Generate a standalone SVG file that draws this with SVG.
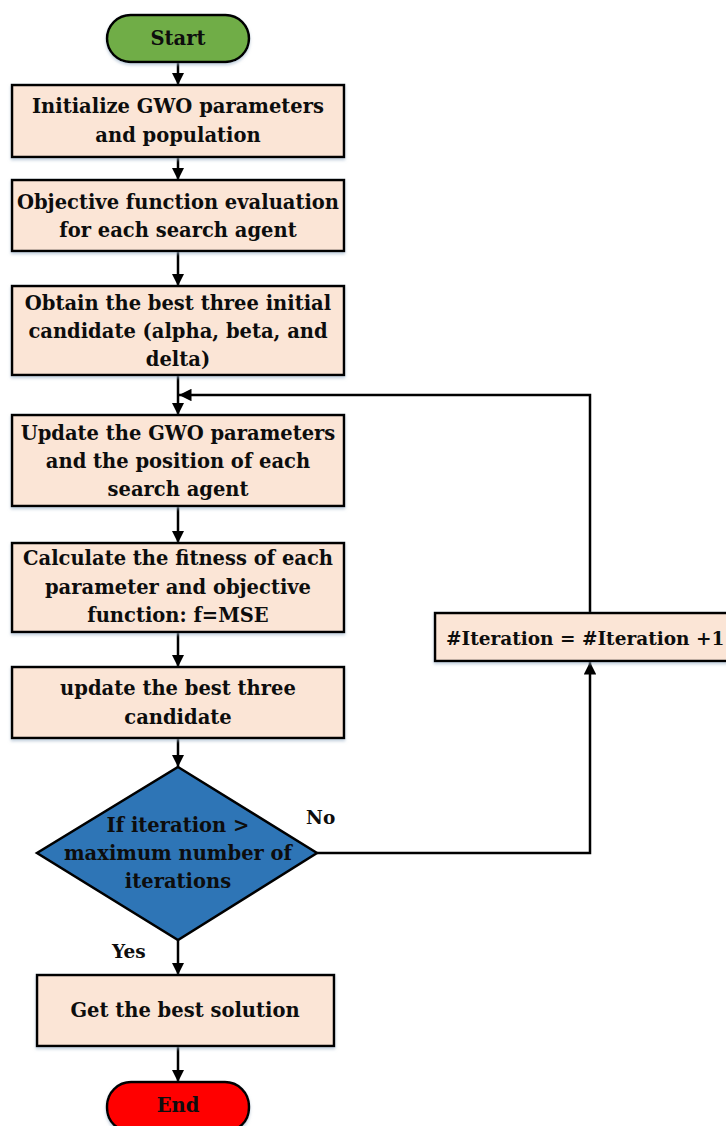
<svg xmlns="http://www.w3.org/2000/svg" width="726" height="1126" viewBox="0 0 726 1126">
  <defs>
    <marker id="arrow" viewBox="0 0 10 10" refX="10" refY="5" markerWidth="5" markerHeight="5" markerUnits="strokeWidth" orient="auto">
      <path d="M0,0 L10,5 L0,10 Z" fill="#000"/>
    </marker>
    <filter id="shadow" x="-5%" y="-10%" width="110%" height="125%">
      <feDropShadow dx="0" dy="2" stdDeviation="1.5" flood-color="#9bb0c8" flood-opacity="0.6"/>
    </filter>
    <style>
      .box { fill: #fbe5d6; stroke: #000; stroke-width: 2.5; filter: url(#shadow); }
      .start { fill: #70ad47; stroke: #000; stroke-width: 2.5; filter: url(#shadow); }
      .end { fill: #ff0000; stroke: #000; stroke-width: 2.5; filter: url(#shadow); }
      .decision { fill: #2e75b6; stroke: #000; stroke-width: 2.5; }
      .lbl { font-family: "DejaVu Serif", "Liberation Serif", serif; font-weight: bold; font-size: 19.5px; fill: #0d0d0d; text-anchor: middle; }
      .tag { font-family: "DejaVu Serif", "Liberation Serif", serif; font-weight: bold; font-size: 18.5px; fill: #0d0d0d; }
      .conn { fill: none; stroke: #000; stroke-width: 2.5; }
      .conn.arr { marker-end: url(#arrow); }
    </style>
  </defs>

  <!-- connectors -->
  <g id="connectors">
    <path class="conn arr" d="M178,62 V85"/>
    <path class="conn arr" d="M178,157 V180"/>
    <path class="conn arr" d="M178,251 V286"/>
    <path class="conn arr" d="M178,375 V415"/>
    <path class="conn arr" d="M178,506 V543"/>
    <path class="conn arr" d="M178,632 V667"/>
    <path class="conn arr" d="M178,738 V767"/>
    <path class="conn arr" d="M178,940 V975"/>
    <path class="conn arr" d="M178,1046 V1082"/>
    <path class="conn arr" d="M317,853 H590 V662"/>
    <path class="conn arr" d="M590,613 V395 H179"/>
    <text class="tag" x="306" y="824">No</text>
    <text class="tag" x="112" y="958">Yes</text>
  </g>

  <g id="start">
    <rect class="start" x="107" y="15" width="142" height="47" rx="23.5"/>
    <text class="lbl" x="178" y="45">Start</text>
  </g>

  <g id="init">
    <rect class="box" x="12" y="85" width="332" height="72"/>
    <text class="lbl" x="178" y="113">Initialize GWO parameters</text>
    <text class="lbl" x="178" y="142">and population</text>
  </g>

  <g id="evaluate">
    <rect class="box" x="12" y="180" width="332" height="71"/>
    <text class="lbl" x="178" y="209">Objective function evaluation</text>
    <text class="lbl" x="178" y="237">for each search agent</text>
  </g>

  <g id="best-initial">
    <rect class="box" x="12" y="286" width="332" height="89"/>
    <text class="lbl" x="178" y="310">Obtain the best three initial</text>
    <text class="lbl" x="178" y="338">candidate (alpha, beta, and</text>
    <text class="lbl" x="178" y="366">delta)</text>
  </g>

  <g id="update-params">
    <rect class="box" x="12" y="415" width="332" height="91"/>
    <text class="lbl" x="178" y="440">Update the GWO parameters</text>
    <text class="lbl" x="178" y="468">and the position of each</text>
    <text class="lbl" x="178" y="496">search agent</text>
  </g>

  <g id="fitness">
    <rect class="box" x="12" y="543" width="332" height="89"/>
    <text class="lbl" x="178" y="565">Calculate the fitness of each</text>
    <text class="lbl" x="178" y="594">parameter and objective</text>
    <text class="lbl" x="178" y="622">function: f=MSE</text>
  </g>

  <g id="update-best">
    <rect class="box" x="12" y="667" width="332" height="71"/>
    <text class="lbl" x="178" y="695">update the best three</text>
    <text class="lbl" x="178" y="724">candidate</text>
  </g>

  <g id="check">
    <polygon class="decision" points="178,767 317,853 178,940 37,853"/>
    <text class="lbl" x="178" y="832">If iteration &gt;</text>
    <text class="lbl" x="178" y="860">maximum number of</text>
    <text class="lbl" x="178" y="888">iterations</text>
  </g>

  <g id="increment">
    <rect class="box" x="435" y="613" width="310" height="48"/>
    <text class="tag" x="446" y="645">#Iteration = #Iteration +1</text>
  </g>

  <g id="solution">
    <rect class="box" x="37" y="975" width="297" height="71"/>
    <text class="lbl" x="185" y="1017">Get the best solution</text>
  </g>

  <g id="end">
    <rect class="end" x="107" y="1082" width="142" height="50" rx="24"/>
    <text class="lbl" x="178" y="1112">End</text>
  </g>
</svg>
